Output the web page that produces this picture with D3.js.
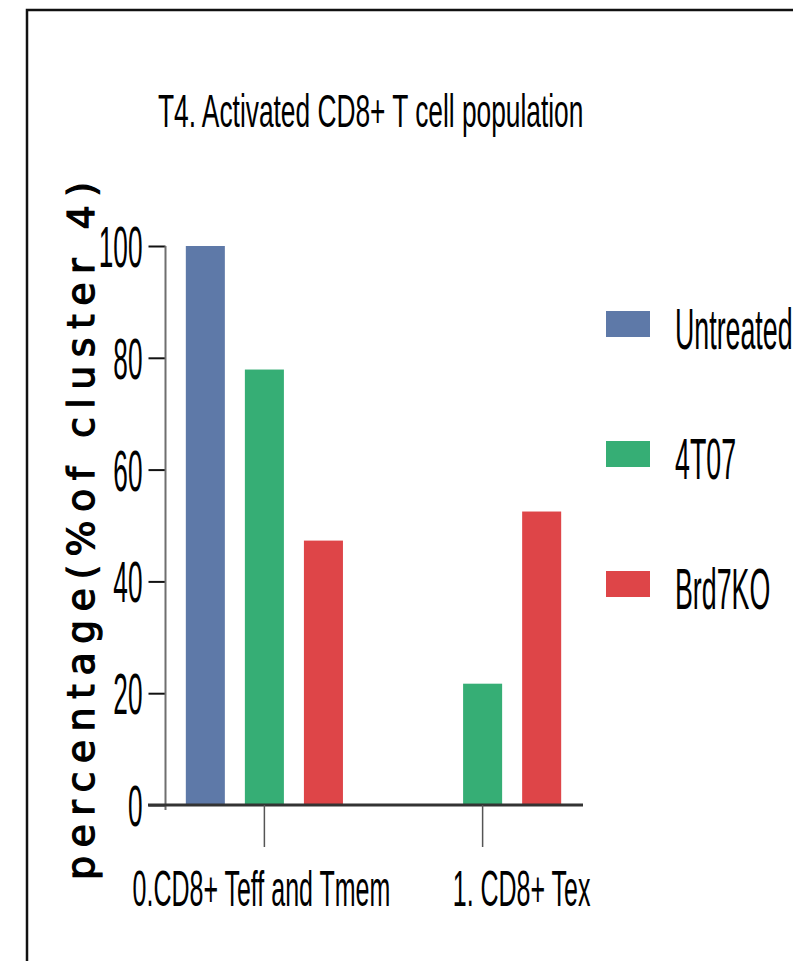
<!DOCTYPE html>
<html>
<head>
<meta charset="utf-8">
<script src="https://cdn.jsdelivr.net/npm/d3@7"></script>
<style>
  html, body { margin: 0; padding: 0; background: #fff; }
  svg { display: block; }
  text { font-family: "Liberation Sans", Arial, sans-serif; fill: #000; }
</style>
</head>
<body>
<script>
// data
const categories = ["0.CD8+ Teff and Tmem", "1. CD8+ Tex"];
const series = ["Untreated", "4T07", "Brd7KO"];
const untreated = [100, 0];
const t407 = [77.9, 21.7];
const brd7ko = [47.3, 52.5];
const yTicks = [0, 20, 40, 60, 80, 100];
const colors = ["#5e79a8", "#36ae75", "#de4548"];

const values = [untreated, t407, brd7ko];
const rows = [];
categories.forEach((c, ci) => {
  series.forEach((s, si) => rows.push({ cat: c, series: s, value: values[si][ci] }));
});

const width = 793, height = 961;
const narrow = 0.46; // the picture is squeezed sideways

const svg = d3.select("body").append("svg")
  .attr("width", width)
  .attr("height", height);

// frame
svg.append("path")
  .attr("d", `M27,${height} V10 H${width}`)
  .attr("fill", "none")
  .attr("stroke", "#111")
  .attr("stroke-width", 2.5);

const x0 = d3.scaleBand()
  .domain(categories)
  .range([164, 583])
  .paddingInner(0.28)
  .paddingOuter(0.1);

const x1 = d3.scaleBand()
  .domain(series)
  .range([0, x0.bandwidth()])
  .paddingInner(0.339);

const y = d3.scaleLinear().domain([0, 100]).range([805, 246]);

const color = d3.scaleOrdinal().domain(series).range(colors);

// bars
svg.append("g")
  .selectAll("rect")
  .data(rows.filter(d => d.value > 0))
  .join("rect")
  .attr("x", d => x0(d.cat) + x1(d.series))
  .attr("y", d => y(d.value))
  .attr("width", x1.bandwidth())
  .attr("height", d => y(0) - y(d.value))
  .attr("fill", d => color(d.series));

// y axis
const axisX = 165.5;
const yAxis = svg.append("g")
  .attr("transform", `translate(${axisX},0)`)
  .call(d3.axisLeft(y).tickValues(yTicks).tickSize(17).tickSizeOuter(0));
yAxis.select(".domain").remove();
yAxis.selectAll(".tick line").attr("stroke", "#111").attr("stroke-width", 2);
yAxis.selectAll(".tick text")
  .attr("x", null)
  .attr("dy", "0.36em")
  .attr("transform", `translate(-23,0) scale(${narrow},1)`)
  .style("font-size", "57px")
  .style("font-family", "'Liberation Sans', Arial, sans-serif")
  .attr("fill", "#000");

svg.append("line")
  .attr("x1", axisX).attr("x2", axisX)
  .attr("y1", y(100)).attr("y2", y(0) + 5)
  .attr("stroke", "#6f6f6f")
  .attr("stroke-width", 2);

// x axis
svg.append("line")
  .attr("x1", 148).attr("x2", 583)
  .attr("y1", y(0)).attr("y2", y(0))
  .attr("stroke", "#333")
  .attr("stroke-width", 3);

svg.append("g")
  .selectAll("line")
  .data(categories)
  .join("line")
  .attr("x1", d => x0(d) + x0.bandwidth() / 2)
  .attr("x2", d => x0(d) + x0.bandwidth() / 2)
  .attr("y1", y(0))
  .attr("y2", y(0) + 42)
  .attr("stroke", "#555")
  .attr("stroke-width", 1.5);

const labelShift = [-3, 39];
svg.append("g")
  .selectAll("text")
  .data(categories)
  .join("text")
  .attr("transform", (d, i) => `translate(${x0(d) + x0.bandwidth() / 2 + labelShift[i]},906) scale(0.5,1)`)
  .attr("text-anchor", "middle")
  .style("font-size", "50px")
  .text(d => d);

// title
svg.append("text")
  .attr("transform", "translate(158,127) scale(0.56,1)")
  .style("font-size", "47px")
  .text("T4. Activated CD8+ T cell population");

// y label: wide, medium-weight letters
svg.append("text")
  .attr("transform", "translate(94,531) rotate(-90)")
  .attr("text-anchor", "middle")
  .attr("textLength", 698)
  .attr("lengthAdjust", "spacing")
  .style("font-family", "'DejaVu Sans', sans-serif")
  .style("font-size", "38px")
  .attr("stroke", "#000")
  .attr("stroke-width", 1.2)
  .text("percentage(%of cluster 4)");

// legend
const legend = svg.append("g")
  .selectAll("g")
  .data(series)
  .join("g")
  .attr("transform", (d, i) => `translate(606,${311 + i * 130})`);

legend.append("rect")
  .attr("width", 44)
  .attr("height", 26)
  .attr("fill", d => color(d));

legend.append("text")
  .attr("transform", `translate(69,38) scale(${narrow + 0.01},1)`)
  .style("font-size", "57px")
  .text(d => d);
</script>
</body>
</html>
